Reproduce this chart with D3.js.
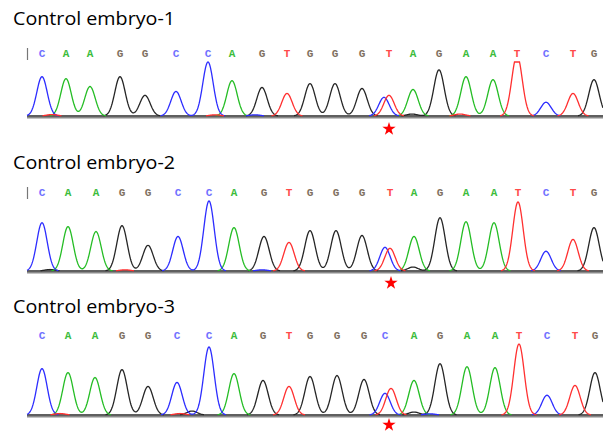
<!DOCTYPE html>
<html>
<head>
<meta charset="utf-8">
<script src="https://cdn.jsdelivr.net/npm/d3@7"></script>
<style>
  body { margin: 0; background: #fff; }
  svg { display: block; }
</style>
</head>
<body>
<div id="chart"></div>
<script>
// base calls shown above each trace
var calls1 = "CAAGGCCAGTGGGTAGAATCTG";
var calls2 = "CAAGGCCAGTGGGTAGAATCTG";
var calls3 = "CAAGGCCAGTGGGCAGAATCTG";

// scan position and signal height of the main peak under each call
var peakX1 = [42, 66, 90, 120, 145, 176, 208, 232, 262, 287, 310, 335, 362, 389, 413, 439, 466, 493, 517, 546, 573, 594];
var peakH1 = [40, 38, 30, 40, 21, 25, 55, 36, 29, 23, 33, 33, 28, 21, 27, 47, 40, 37, 62, 14, 23, 37];
var peakX2 = [42, 68, 96, 122, 148, 178, 209, 234, 264, 289, 310, 336, 362, 390, 414, 440, 466, 494, 518, 546, 573, 594];
var peakH2 = [49, 45, 40, 46, 26, 35, 71, 44, 35, 29, 41, 41, 36, 23, 35, 54, 50, 49, 70, 20, 32, 44];
var peakX3 = [42, 68, 95, 122, 148, 177, 209, 234, 263, 289, 310, 337, 364, 385, 414, 440, 467, 495, 519, 547, 575, 595];
var peakH3 = [47, 43, 38, 46, 29, 33, 69, 42, 35, 29, 39, 40, 36, 22, 35, 52, 49, 48, 72, 20, 30, 43];

// secondary peaks: [channel, scan position, height]
var extra1 = [["C", 384, 19], ["G", 412, 2], ["T", 460, 2], ["T", 52, 1.5], ["C", 255, 1.2], ["T", 215, 1.2]];
var extra2 = [["C", 385, 24], ["G", 413, 4], ["G", 50, 1.5], ["T", 125, 1.2], ["C", 262, 1.2]];
var extra3 = [["T", 391, 27], ["G", 414, 3], ["G", 192, 4], ["T", 60, 1.5], ["T", 180, 1.5], ["C", 430, 1.2]];

// marked mutation site, scan position of the star
var siteX = [389, 391, 389];

var titles = ["Control embryo-1", "Control embryo-2", "Control embryo-3"];

var traceColor = { A: "#25bd25", C: "#2d2dff", G: "#262626", T: "#ff3030" };
var callColor = { A: "#3cbc3c", C: "#7070ff", G: "#7f7060", T: "#ff4a4a" };
var channels = ["G", "A", "C", "T"];

var width = 603, height = 434;

var panels = [
    { calls: calls1, px: peakX1, ph: peakH1, extra: extra1, titleY: 25, callY: 57, bar: true, base: 117, top: 62, maxH: 55, starY: 129 },
    { calls: calls2, px: peakX2, ph: peakH2, extra: extra2, titleY: 169, callY: 196, bar: true, base: 272, top: 201, maxH: 71, starY: 283 },
    { calls: calls3, px: peakX3, ph: peakH3, extra: extra3, titleY: 313, callY: 339, bar: false, base: 416, top: 344, maxH: 72, starY: 425 }
];

var svg = d3.select("#chart").append("svg")
    .attr("width", width)
    .attr("height", height);

var x = d3.scaleLinear().domain([27, 603]).range([27, 603]);
var sigma = 5.2;
var samples = d3.range(27, 603.5, 0.5);

panels.forEach(function(p, k) {
    var y = d3.scaleLinear().domain([0, p.maxH]).range([p.base - 1, p.top]).clamp(true);

    var g = svg.append("g");

    g.append("text")
        .attr("x", 13)
        .attr("y", p.titleY)
        .attr("textLength", 162)
        .attr("lengthAdjust", "spacingAndGlyphs")
        .style("font-family", "'Open Sans', sans-serif")
        .style("font-size", "18.5px")
        .style("fill", "#000")
        .text(titles[k]);

    if (p.bar) {
        g.append("line")
            .attr("x1", 27.5).attr("x2", 27.5)
            .attr("y1", p.callY - 9).attr("y2", p.callY + 3)
            .attr("stroke", "#777")
            .attr("stroke-width", 1.2);
    }

    var calls = p.calls.split("");
    g.selectAll("text.call")
        .data(calls)
        .enter().append("text")
        .attr("class", "call")
        .attr("x", function(d, i) { return x(p.px[i]); })
        .attr("y", p.callY)
        .attr("text-anchor", "middle")
        .style("font-family", "'Liberation Mono', monospace")
        .style("font-size", "11px")
        .style("font-weight", "bold")
        .style("fill", function(d) { return callColor[d]; })
        .text(function(d) { return d; });

    // collect peaks per channel
    var peaks = { A: [], C: [], G: [], T: [] };
    calls.forEach(function(c, i) { peaks[c].push([p.px[i], p.ph[i]]); });
    p.extra.forEach(function(e) { peaks[e[0]].push([e[1], e[2]]); });

    g.append("line")
        .attr("x1", x(27)).attr("x2", x(603))
        .attr("y1", p.base + 0.7).attr("y2", p.base + 0.7)
        .attr("stroke", "#8a8a8a")
        .attr("stroke-width", 1.5);
    g.append("line")
        .attr("x1", x(27)).attr("x2", x(603))
        .attr("y1", y(0)).attr("y2", y(0))
        .attr("stroke", "#2a2a2a")
        .attr("stroke-width", 1.3);

    var line = d3.line()
        .defined(function(d) { return d[1] > 0.25; })
        .x(function(d) { return x(d[0]); })
        .y(function(d) { return y(d[1]); });

    channels.forEach(function(ch) {
        var pts = samples.map(function(s) {
            var v = d3.sum(peaks[ch], function(pk) {
                return pk[1] * Math.exp(-(s - pk[0]) * (s - pk[0]) / (2 * sigma * sigma));
            });
            return [s, v];
        });
        g.append("path")
            .datum(pts)
            .attr("d", line)
            .attr("fill", "none")
            .attr("stroke", traceColor[ch])
            .attr("stroke-width", 1.3);
    });

    g.append("path")
        .attr("d", d3.symbol().type(d3.symbolStar).size(55)())
        .attr("transform", "translate(" + x(siteX[k]) + "," + p.starY + ")")
        .attr("fill", "#ff0000");
});
</script>
</body>
</html>
